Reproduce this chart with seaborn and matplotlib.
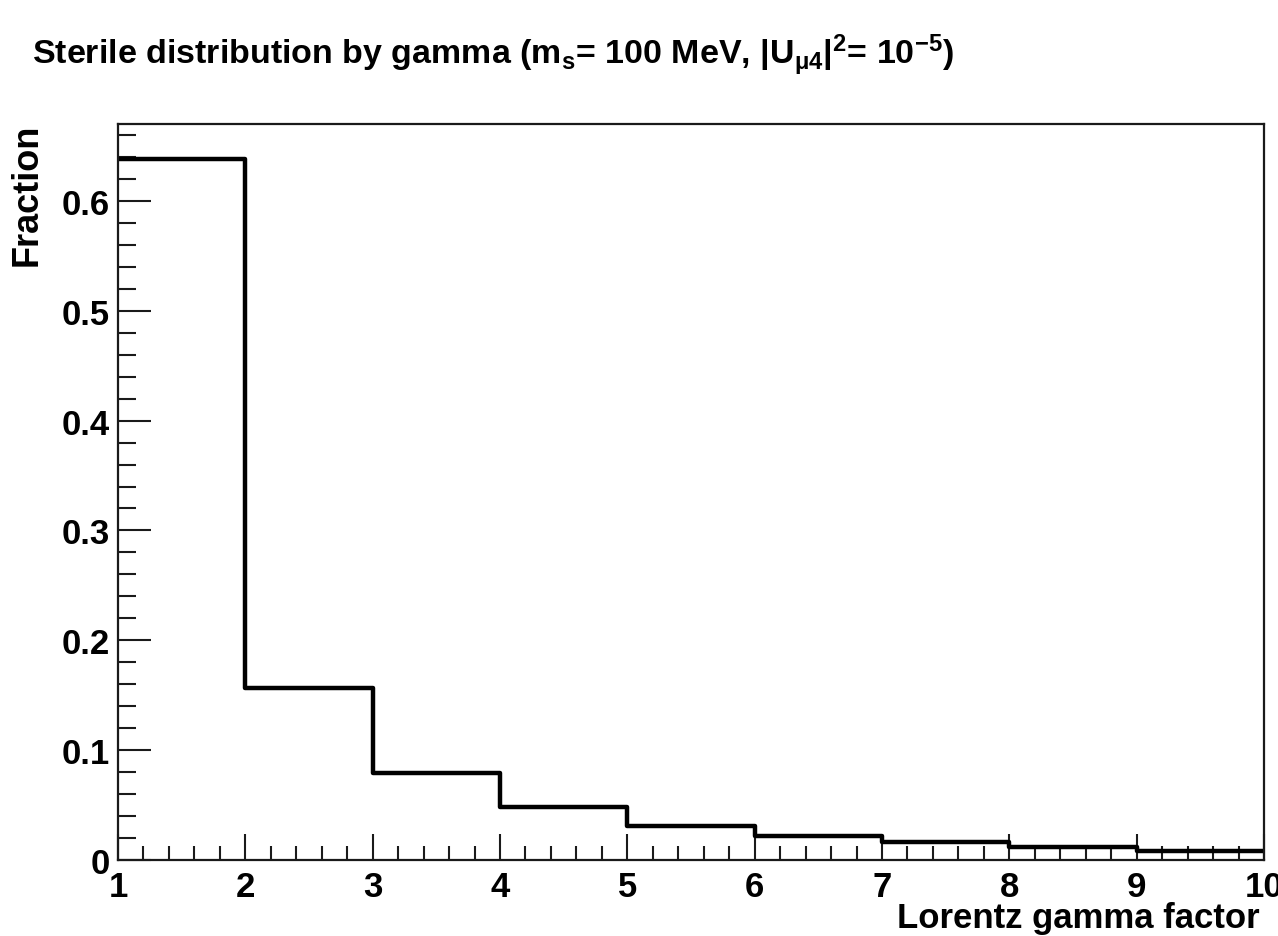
import numpy as np
import pandas as pd
import seaborn as sns
import matplotlib
matplotlib.use("Agg")
import matplotlib.pyplot as plt
from matplotlib.ticker import MultipleLocator, FormatStrFormatter

# gamma bins (1..10, width 1) and fraction of steriles in each bin
gamma_edges = [1, 2, 3, 4, 5, 6, 7, 8, 9, 10]
gamma_centers = [1.5, 2.5, 3.5, 4.5, 5.5, 6.5, 7.5, 8.5, 9.5]
fraction = [0.638, 0.157, 0.079, 0.048, 0.031, 0.022, 0.0166, 0.012, 0.0085]

x_ticks = [1, 2, 3, 4, 5, 6, 7, 8, 9, 10]
y_ticks = [0, 0.1, 0.2, 0.3, 0.4, 0.5, 0.6]

df = pd.DataFrame({"gamma": gamma_centers, "fraction": fraction})

sns.set_style("ticks")
plt.rcParams["font.family"] = ["Liberation Sans", "DejaVu Sans"]
plt.rcParams["font.weight"] = "bold"
plt.rcParams["mathtext.fontset"] = "custom"
plt.rcParams["mathtext.rm"] = "Liberation Sans:bold"
plt.rcParams["mathtext.it"] = "Liberation Sans:bold"
plt.rcParams["mathtext.bf"] = "Liberation Sans:bold"
for key in ["text.color", "axes.labelcolor", "xtick.color", "ytick.color", "axes.edgecolor"]:
    plt.rcParams[key] = "black"

fig = plt.figure(figsize=(12.78, 9.37), dpi=100)
ax = fig.add_axes([118 / 1278, 1 - 861 / 937, (1264 - 118) / 1278, (861 - 125) / 937])

sns.histplot(data=df, x="gamma", weights="fraction", bins=gamma_edges,
             element="step", fill=False, color="black", linewidth=3.2, ax=ax)

ax.set_xlim(1, 10)
ax.set_ylim(0, 0.670)
ax.set_xticks(x_ticks)
ax.set_yticks(y_ticks)
ax.xaxis.set_minor_locator(MultipleLocator(0.2))
ax.yaxis.set_minor_locator(MultipleLocator(0.02))
ax.xaxis.set_major_formatter(FormatStrFormatter("%g"))
ax.yaxis.set_major_formatter(FormatStrFormatter("%g"))

ax.tick_params(axis="both", which="both", direction="in", width=1.5, color="#1a1a1a",
               labelcolor="black", top=False, right=False)
ax.tick_params(axis="x", which="major", length=19, pad=7, labelsize=25)
ax.tick_params(axis="x", which="minor", length=10)
ax.tick_params(axis="y", which="major", length=24, pad=6, labelsize=25)
ax.tick_params(axis="y", which="minor", length=13)
for lbl in ax.get_xticklabels() + ax.get_yticklabels():
    lbl.set_fontweight("bold")
for sp in ax.spines.values():
    sp.set_linewidth(1.6)
    sp.set_color("#1a1a1a")
    sp.set_visible(True)

ax.set_xlabel("")
ax.set_ylabel("")
fig.text(1260 / 1278, 1 - 928 / 937, "Lorentz gamma factor", ha="right", va="baseline",
         fontsize=25, fontweight="bold")
fig.text(27 / 1278, 1 - 124 / 937, "Fraction", ha="center", va="top", rotation=90,
         fontsize=26, fontweight="bold")

title = (r"Sterile distribution by gamma (m$_{\mathrm{s}}$= 100 MeV, "
         r"|U$_{\mathrm{\mu 4}}$|$^{\mathrm{2}}$= 10$^{\mathrm{-5}}$)")
fig.text(32 / 1278, 1 - 65 / 937, title, ha="left", va="baseline",
         fontsize=24.5, fontweight="bold")

fig.savefig("out.png", dpi=100)
